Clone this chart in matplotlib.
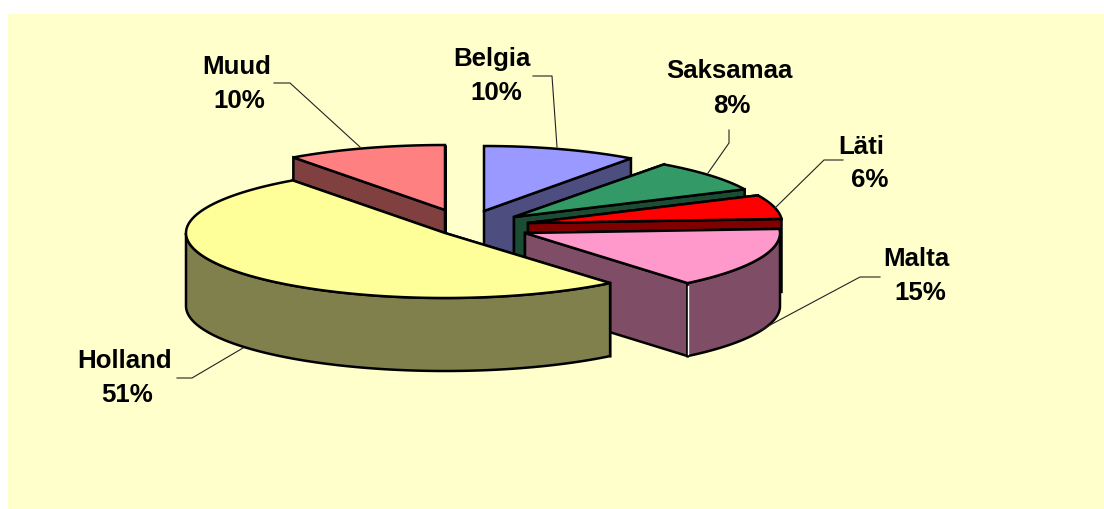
import numpy as np
import matplotlib
matplotlib.use('Agg')
import matplotlib.pyplot as plt
from matplotlib.patches import Polygon, Rectangle

# data
names = ['Belgia', 'Saksamaa', 'Läti', 'Malta', 'Holland', 'Muud']
values = [10, 8, 6, 15, 51, 10]
top_colors = ['#9999FF', '#339966', '#FF0000', '#FF99CC', '#FFFF99', '#FF8080']
side_colors = ['#4D4D80', '#1A4D33', '#800000', '#804D66', '#80804D', '#804040']

# layout, in pixels of the picture
apex_x = [484, 514, 528, 525, 445, 445]
apex_y = [211, 217, 223, 233, 233, 210]
radius_x = [250, 255, 254, 255, 259, 258]
radius_y = 65
depth = 73
name_x = [492, 729, 861, 916, 125, 237]
name_y = [66, 78, 154, 266, 368, 74]
pct_x = [496, 732, 870, 920, 127, 239]
pct_y = [100, 113, 187, 300, 402, 108]
leader_x = [[533, 552, 557], [729, 729, 708], [843, 824, 775], [880, 860, 757], [177, 192, 243], [274, 290, 360]]
leader_y = [[76, 76, 147], [130, 143, 173], [160, 160, 208], [277, 277, 332], [378, 378, 348], [83, 83, 147]]

plt.rcParams['font.family'] = ['Liberation Sans', 'DejaVu Sans']

fig = plt.figure(figsize=(11.04, 5.09), dpi=100, facecolor='white')
ax = fig.add_axes([0, 0, 1, 1])
ax.set_xlim(0, 1104)
ax.set_ylim(509, 0)
ax.axis('off')

ax.add_patch(Rectangle((8, 14), 1096, 495, facecolor='#FFFFCC', edgecolor='none', zorder=0))

# angles clockwise from the top, slices follow each other
edges = np.cumsum([0] + values) / sum(values) * 2 * np.pi


def pt(i, a, down=0):
    return (apex_x[i] + radius_x[i] * np.sin(a), apex_y[i] - radius_y * np.cos(a) + down)


def face(pts, color, z):
    ax.add_patch(Polygon(pts, closed=True, facecolor=color, edgecolor='black',
                         linewidth=1.8, joinstyle='miter', zorder=z))


order = [5, 0, 1, 2, 3, 4]
z = 1
for i in order:
    a0, a1 = edges[i], edges[i + 1]
    centre = (apex_x[i], apex_y[i])
    centre_low = (apex_x[i], apex_y[i] + depth)

    # the two cut faces, the one facing the viewer goes last
    for a in (a0, a1):
        face([centre, pt(i, a), pt(i, a, depth), centre_low], side_colors[i], z)
        z += 1

    # outer wall, only the front half of the pie shows it
    lo, hi = max(a0, np.pi / 2), min(a1, 3 * np.pi / 2)
    if hi > lo:
        arc = np.linspace(lo, hi, 120)
        wall = [pt(i, a) for a in arc] + [pt(i, a, depth) for a in arc[::-1]]
        face(wall, side_colors[i], z)
        z += 1

    arc = np.linspace(a0, a1, 120)
    face([centre] + [pt(i, a) for a in arc], top_colors[i], z)
    z += 1

    # Malta has a pale seam between cut face and wall
    if names[i] == 'Malta':
        x0, y0 = pt(i, a1)
        ax.plot([x0, x0], [y0 + 3, y0 + depth - 2], color='white', lw=1, zorder=z)
        z += 1

for i in range(len(names)):
    ax.plot(leader_x[i], leader_y[i], color='#222222', lw=0.8, zorder=z)
    ax.text(name_x[i], name_y[i], names[i], ha='center', va='baseline',
            fontsize=18.6, fontweight='bold', color='black', zorder=z)
    ax.text(pct_x[i], pct_y[i], '%d%%' % values[i], ha='center', va='baseline',
            fontsize=18.6, fontweight='bold', color='black', zorder=z)

fig.savefig('out.png', dpi=100, facecolor='white')
